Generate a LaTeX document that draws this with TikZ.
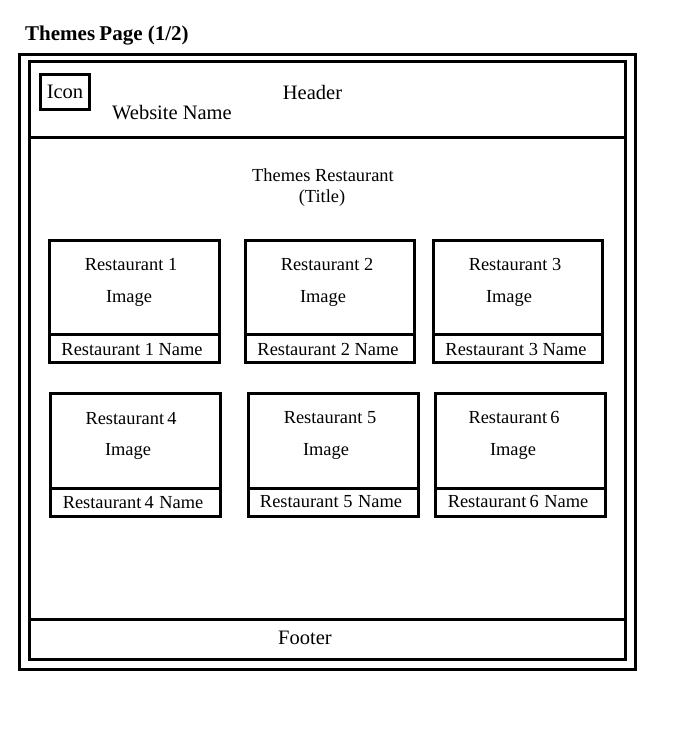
\documentclass[tikz,border=0pt]{standalone}
\usepackage{fontspec}
\setmainfont{Liberation Serif}
\begin{document}
\begin{tikzpicture}[x=1pt,y=-1pt,
  frame/.style={draw=black,line width=3pt,inner sep=0pt,outer sep=0pt},
  cardimg/.style={frame,minimum width=170pt,minimum height=94pt,anchor=north west},
  cardname/.style={frame,minimum width=170pt,minimum height=28pt,anchor=north west},
  big/.style={font=\fontsize{20.5}{24}\selectfont,anchor=base,inner sep=0pt},
  small/.style={font=\fontsize{18.4}{22}\selectfont,anchor=base,inner sep=0pt}]
\useasboundingbox[fill=white] (0,0) rectangle (688,736);
% page title
\node[font=\bfseries\fontsize{21}{25}\selectfont,anchor=base west,inner sep=0pt] (pagetitle) at (25,40) {Themes\kern-1pt\ Page (1/2)};
% frames
\node[frame,minimum width=616pt,minimum height=614.7pt,anchor=north west] (outer) at (19.5,54.3) {};
\node[frame,minimum width=596pt,minimum height=597.7pt,anchor=north west] (inner) at (29.3,61.3) {};
\coordinate (hl) at (29.3,137.5);
\coordinate (hr) at (625.3,137.5);
\draw[line width=3pt] (hl) -- (hr);
\coordinate (fl) at (29.3,619);
\coordinate (fr) at (625.3,619);
\draw[line width=3pt] (fl) -- (fr);
% header
\node[frame,minimum width=49pt,minimum height=35pt,anchor=north west] (iconbox) at (40.5,74.5) {};
\node[big] (icon) at (65,98.3) {Icon};
\node[big] (header) at (312.5,99.3) {Header};
\node[big] (webname) at (172,119.3) {Website Name};
% title
\node[small] (t1) at (323,181) {Themes Restaurant};
\node[small] (t2) at (322,202.5) {(Title)};
% row 1
\node[cardimg,minimum width=169.5pt,minimum height=93.5pt] (c1) at (49.5,240.5) {};
\node[cardname,minimum width=169.5pt] (n1) at (49.5,334) {};
\node[cardimg,minimum width=169pt,minimum height=93.5pt] (c2) at (245.5,240.5) {};
\node[cardname,minimum width=169pt] (n2) at (245.5,334) {};
\node[cardimg,minimum width=169pt,minimum height=93.5pt] (c3) at (433.5,240.5) {};
\node[cardname,minimum width=169pt] (n3) at (433.5,334) {};
\node[small] (r1) at (131,270.7) {Restaurant 1};
\node[small] (i1) at (129,302) {Image};
\node[small] (m1) at (132,355) {Restaurant 1 Name};
\node[small] (r2) at (327,270.5) {Restaurant 2};
\node[small] (i2) at (323,302) {Image};
\node[small] (m2) at (328,355) {Restaurant 2 Name};
\node[small] (r3) at (515,270.5) {Restaurant 3};
\node[small] (i3) at (509,302) {Image};
\node[small] (m3) at (516,355) {Restaurant 3 Name};
% row 2
\node[cardimg,minimum height=94.5pt] (c4) at (50,393.5) {};
\node[cardname] (n4) at (50,488) {};
\node[cardimg,minimum height=94.5pt] (c5) at (248,393.5) {};
\node[cardname] (n5) at (248,488) {};
\node[cardimg,minimum height=94.5pt] (c6) at (435,393.5) {};
\node[cardname] (n6) at (435,488) {};
\node[small] (r4) at (131,424) {Restaurant\,4};
\node[small] (i4) at (128,455) {Image};
\node[small] (m4) at (133,508.3) {Restaurant\,4\ \kern1pt Name};
\node[small] (r5) at (330,423.3) {Restaurant 5};
\node[small] (i5) at (326,455) {Image};
\node[small] (m5) at (331,507.5) {Restaurant 5\ \kern1pt Name};
\node[small] (r6) at (514,423.3) {Restaurant\,6};
\node[small] (i6) at (513,455) {Image};
\node[small] (m6) at (518,507.5) {Restaurant\,6\ \kern1pt Name};
% footer
\node[big] (footer) at (305,644.5) {Footer};
\end{tikzpicture}
\end{document}
